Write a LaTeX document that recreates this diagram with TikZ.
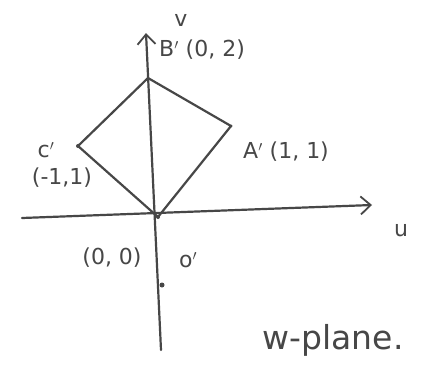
\documentclass[tikz,border=0pt]{standalone}
\usepackage{fontspec}
\setmainfont{DejaVu Sans}
\usetikzlibrary{arrows.meta}
\definecolor{ink}{HTML}{474747}
\tikzset{
  pen/.style={draw=ink, line width=2.2pt, line cap=round, line join=round},
  axisarrow/.style={pen, -{Straight Barb[length=10pt, width=18pt, line width=1.8pt]}},
  lbl/.style={text=ink, font=\fontsize{22}{24}\selectfont, inner sep=1pt},
  vertex/.style={circle, fill=ink, inner sep=0pt, minimum size=4pt}
}
\begin{document}
\begin{tikzpicture}[x=1pt, y=-1pt]
\useasboundingbox (0,0) rectangle (438,372);
\fill[white] (0,0) rectangle (438,372);
% points
\coordinate (Vbot) at (161,350);
\coordinate (Vtop) at (146,33);
\coordinate (Uleft) at (22,218);
\coordinate (Uright) at (372,205);
\node[vertex] (O) at (158,217) {};
\node[vertex, minimum size=2pt] (B) at (148,78) {};
\node[vertex, minimum size=3pt] (A) at (231,126) {};
\node[vertex] (C) at (78,146) {};
\node[vertex, minimum size=5pt] (D) at (162,285) {};
% axes
\draw[axisarrow] (Vbot) -- (Vtop);
\draw[axisarrow] (Uleft) -- (Uright);
% quadrilateral
\draw[pen] (O.center) -- (A.center) -- (B.center) -- (C.center) -- (O.center);
% labels
\node[lbl] (lv) at (181,20) {v};
\node[lbl, anchor=west] (lB) at (158,50) {B$'$ (0, 2)};
\node[lbl, anchor=west] (lA) at (242,152) {A$'$ (1, 1)};
\node[lbl] (lC) at (46,150) {c$'$};
\node[lbl] (lC2) at (62,178) {(-1,1)};
\node[lbl] (lu) at (401,230) {u};
\node[lbl] (lO) at (112,258) {(0, 0)};
\node[lbl] (lO2) at (188,260) {o$'$};
\node[lbl, font=\fontsize{33}{35}\selectfont] (lw) at (333,340) {w-plane.};
\end{tikzpicture}
\end{document}
